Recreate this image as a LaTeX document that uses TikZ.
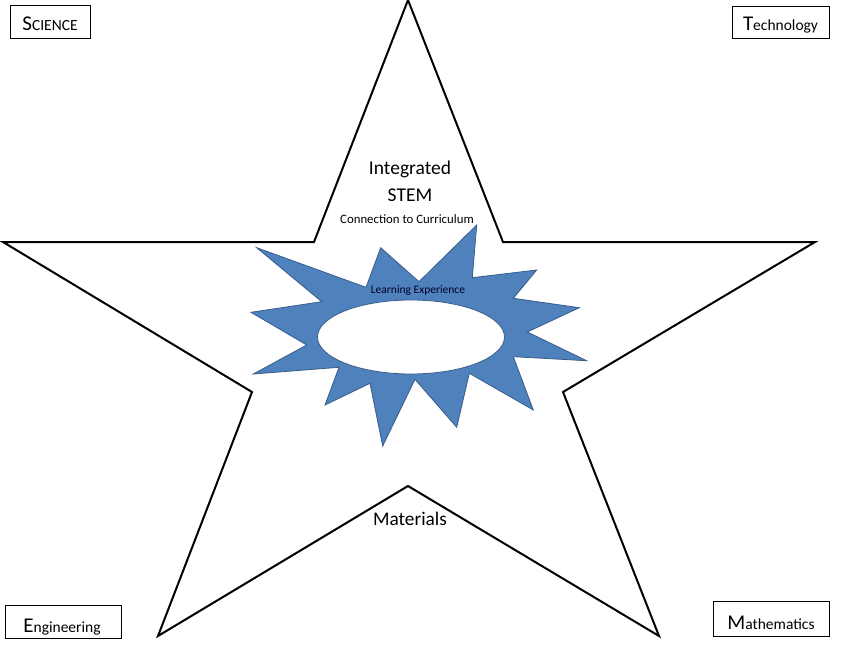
\documentclass[tikz,border=0pt]{standalone}
\usepackage{fontspec}
\setmainfont{Carlito}
\usetikzlibrary{shapes.geometric}
\definecolor{burst}{RGB}{79,129,189}
\definecolor{burstedge}{RGB}{56,93,138}
\begin{document}
\begin{tikzpicture}[x=1pt,y=-1pt,
  cornerbox/.style={draw=black,line width=1.1pt,fill=white,inner sep=0pt,anchor=north west},
  lbl/.style={inner sep=0pt,text=black,align=center},
  boxlbl/.style={inner sep=0pt,text=black,anchor=base}]
\useasboundingbox (0,0) rectangle (844,650);
% star
\draw[line width=2pt,line join=miter]
  (408,0) -- (503,242) -- (815,242) -- (563,392) -- (659,636) -- (408,486)
  -- (158,636) -- (252,392) -- (3,242) -- (314,242) -- cycle;
% starburst
\draw[fill=burst,draw=burstedge,line width=0.8pt,line join=miter]
  (256.7,247.7) -- (321.7,301.7) -- (251,312.3) -- (306.7,345) -- (253.3,374)
  -- (339,367.3) -- (325,405) -- (370,383.3) -- (382.7,446) -- (415,379.3)
  -- (456.7,427.3) -- (469.3,373.3) -- (533.3,410) -- (513.3,356.7) -- (586.7,360.7)
  -- (527.3,332) -- (579.3,307.7) -- (513.3,298.3) -- (536.7,270) -- (472.3,277.7)
  -- (476.7,225) -- (419,281.7) -- (380.7,247.7) -- (366,287.3) -- cycle;
\node[draw=burstedge,fill=white,line width=0.8pt,ellipse,minimum width=187pt,minimum height=74pt,inner sep=0pt] (hole) at (411,337) {};
% texts
\node[lbl,font=\fontsize{19.5}{23}\selectfont] (integ) at (410,169) {Integrated};
\node[lbl,font=\fontsize{19.5}{23}\selectfont] (stem) at (410,195) {STEM};
\node[lbl,font=\fontsize{12.8}{15}\selectfont] (conn) at (407,219) {Connection to Curriculum};
\node[lbl,font=\fontsize{11.5}{14}\selectfont,text=black!85!blue] (learn) at (418,291) {Learning Experience};
\node[lbl,font=\fontsize{19.3}{23}\selectfont] (mat) at (410,519) {Materials};
% corner boxes
\node[cornerbox,minimum width=80pt,minimum height=33pt] (sci) at (10,5) {};
\node[boxlbl] (scit) at (50,30.5) {{\fontsize{21}{24}\selectfont S}{\fontsize{15.5}{18}\selectfont CIENCE}};
\node[cornerbox,minimum width=97pt,minimum height=32pt] (tech) at (732,6) {};
\node[boxlbl] (techt) at (780.5,31) {{\fontsize{21}{24}\selectfont T}{\fontsize{15.5}{18}\selectfont echnology}};
\node[cornerbox,minimum width=116pt,minimum height=33pt] (eng) at (5,605) {};
\node[boxlbl] (engt) at (62,632) {{\fontsize{21}{24}\selectfont E}{\fontsize{15.5}{18}\selectfont ngineering}};
\node[cornerbox,minimum width=116pt,minimum height=35pt] (math) at (713,601) {};
\node[boxlbl] (matht) at (771,629) {{\fontsize{21}{24}\selectfont M}{\fontsize{15.5}{18}\selectfont athematics}};
\end{tikzpicture}
\end{document}
